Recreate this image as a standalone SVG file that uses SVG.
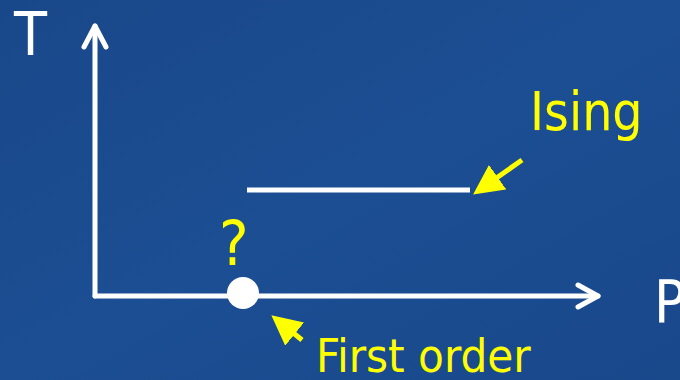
<svg xmlns="http://www.w3.org/2000/svg" width="680" height="380" viewBox="0 0 680 380">
<defs>
<style>
.ax{stroke:#fff;stroke-width:5;fill:none;stroke-linecap:round;stroke-linejoin:round}
.ptr{stroke:#ffff00;stroke-width:5;fill:none}
.lbl{font-family:"DejaVu Sans Condensed","DejaVu Sans",sans-serif}
.w{fill:#fff}
.y{fill:#ffff00}
</style>
<marker id="yh" viewBox="0 0 10 10" refX="8" refY="5" markerWidth="6" markerHeight="6" orient="auto" markerUnits="strokeWidth">
<path d="M0,0 L10,5 L0,10 z" fill="#ffff00"/>
</marker>
<linearGradient id="bg" x1="0" y1="0" x2="1" y2="1">
<stop offset="0" stop-color="#19488a"/>
<stop offset="0.5" stop-color="#1c4e93"/>
<stop offset="1" stop-color="#19488b"/>
</linearGradient>
</defs>
<rect width="680" height="380" fill="url(#bg)"/>
<g id="connectors">
<path class="ax" d="M95,296 V26"/>
<path class="ax" d="M84,47 L95,26 L106,47"/>
<path class="ax" d="M95,296 H598"/>
<path class="ax" d="M578,285 L598,296 L578,307"/>
<path class="ptr" d="M522,160 L478,191" marker-end="url(#yh)"/>
<path class="ptr" d="M302,340 L276,319" marker-end="url(#yh)"/>
</g>
<g id="ising-line"><path d="M247,190 H470" stroke="#fff" stroke-width="5"/></g>
<g id="critical-point"><circle cx="243" cy="293" r="16" fill="#fff"/></g>
<g id="label-T"><text class="lbl w" x="14" y="55" font-size="60">T</text></g>
<g id="label-P"><text class="lbl w" x="654" y="322" font-size="58">P</text></g>
<g id="label-Ising"><text class="lbl y" x="530" y="130" font-size="53">Ising</text></g>
<g id="label-q"><text class="lbl y" x="219" y="265" font-size="62">?</text></g>
<g id="label-first"><text class="lbl y" x="316" y="372" font-size="47">First order</text></g>
</svg>
